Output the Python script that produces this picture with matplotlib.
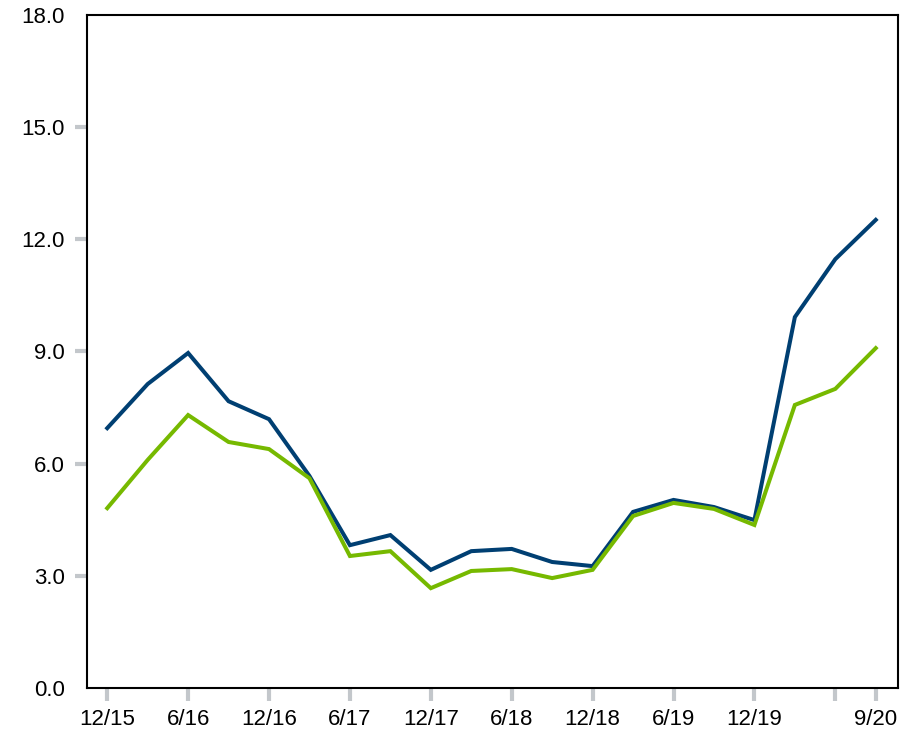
import matplotlib
matplotlib.use("Agg")
import matplotlib.pyplot as plt

plt.rcParams['font.family'] = ['Liberation Sans', 'DejaVu Sans']

quarters = ["12/15", "3/16", "6/16", "9/16", "12/16", "3/17", "6/17", "9/17", "12/17", "3/18",
            "6/18", "9/18", "12/18", "3/19", "6/19", "9/19", "12/19", "3/20", "6/20", "9/20"]
blue_values = [6.95, 8.13, 8.96, 7.67, 7.19, 5.67, 3.82, 4.09, 3.16, 3.66,
               3.72, 3.37, 3.26, 4.71, 5.03, 4.84, 4.49, 9.92, 11.47, 12.52]
green_values = [4.81, 6.10, 7.30, 6.58, 6.39, 5.61, 3.53, 3.66, 2.67, 3.13,
                3.18, 2.94, 3.16, 4.60, 4.95, 4.79, 4.36, 7.57, 8.00, 9.09]
tick_idx = [0, 2, 4, 6, 8, 10, 12, 14, 16, 18, 19]
tick_labels = ["12/15", "6/16", "12/16", "6/17", "12/17", "6/18", "12/18", "6/19", "12/19", "", "9/20"]
y_ticks = [0, 3, 6, 9, 12, 15, 18]

fig = plt.figure(figsize=(9.18, 7.34), dpi=100)
ax = fig.add_axes([87/918, 1-688/734, (898-87)/918, (688-15)/734])

x = list(range(len(quarters)))
ax.plot(x, blue_values, color='#003f72', lw=2.9, solid_joinstyle='miter')
ax.plot(x, green_values, color='#76b900', lw=2.9, solid_joinstyle='miter')

ax.set_xlim(-0.5, 19.55)
ax.set_ylim(0, 18)
ax.set_xticks(tick_idx)
ax.set_xticklabels(tick_labels)
ax.set_yticks(y_ticks)
ax.set_yticklabels([f"{v:.1f}" for v in y_ticks])
ax.tick_params(axis='x', which='major', length=9, width=3, color='#c3c7cb',
               labelsize=16, labelcolor='black', pad=6)
ax.tick_params(axis='y', which='major', length=9, width=3, color='#c3c7cb',
               labelsize=16, labelcolor='black', pad=7)
yt = ax.yaxis.get_major_ticks()
yt[0].tick1line.set_visible(False)
yt[-1].tick1line.set_visible(False)
for s in ax.spines.values():
    s.set_linewidth(1.5)
    s.set_color('black')

fig.savefig("out.png", dpi=100)
